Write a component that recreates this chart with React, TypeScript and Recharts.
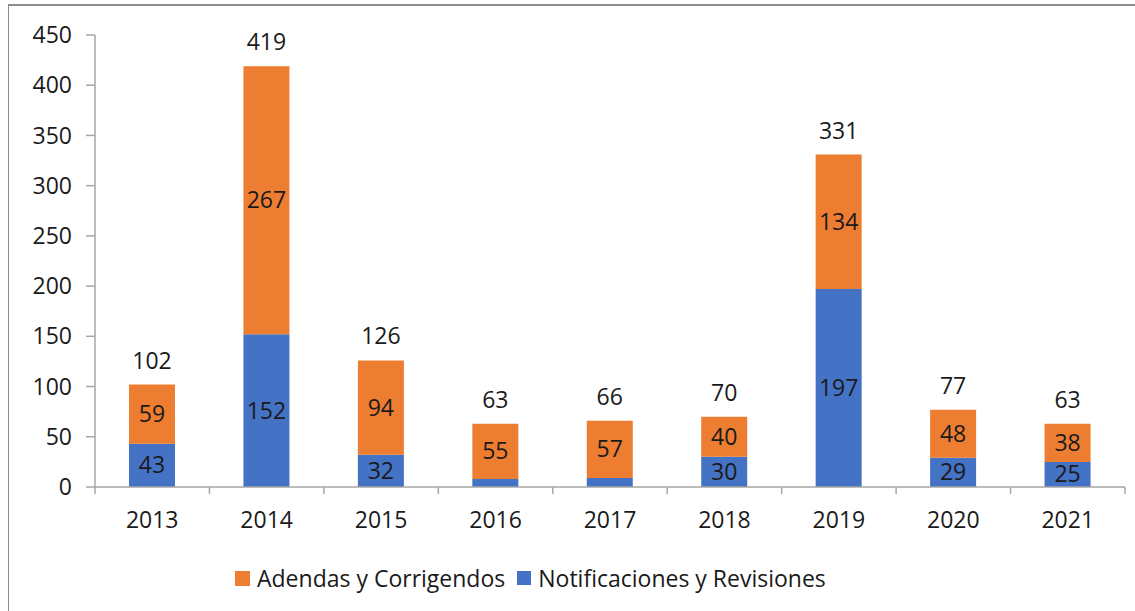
import React from 'react';
import { BarChart, Bar, XAxis, YAxis, LabelList, Legend } from 'recharts';

const years = ['2013', '2014', '2015', '2016', '2017', '2018', '2019', '2020', '2021'];
const notificaciones = [43, 152, 32, 8, 9, 30, 197, 29, 25];
const adendas = [59, 267, 94, 55, 57, 40, 134, 48, 38];
const yTicks = [0, 50, 100, 150, 200, 250, 300, 350, 400, 450];
const seriesNames = { adendas: 'Adendas y Corrigendos', notificaciones: 'Notificaciones y Revisiones' };

const BLUE = '#4472C4';
const ORANGE = '#ED7D31';
const AXIS = '#A6A6A6';
const TEXT = '#1a1a1a';
const FONT = '"Open Sans", Lato, sans-serif';
const FS = 23;

// each category sits in the middle of its unit slot on a numeric axis
const data = years.map((y, i) => ({
  year: y,
  pos: i + 0.5,
  notificaciones: notificaciones[i],
  adendas: adendas[i],
  total: notificaciones[i] + adendas[i],
}));

// boundaries (tick marks) and centers (labels)
const xTicks: number[] = [];
for (let i = 0; i <= years.length; i++) {
  xTicks.push(i);
  if (i < years.length) xTicks.push(i + 0.5);
}

const XTick = (props: any) => {
  const { x, y, payload } = props;
  const v = payload.value as number;
  if (Number.isInteger(v)) {
    return <line x1={x} x2={x} y1={y} y2={y + 7} stroke={AXIS} strokeWidth={1.5} />;
  }
  return (
    <text x={x} y={y + 41} textAnchor="middle" fill={TEXT} fontSize={FS} fontFamily={FONT}>
      {years[Math.floor(v)]}
    </text>
  );
};

const TotalLabel = (props: any) => {
  const { x, y, width, index } = props;
  const t = data[index].total;
  return (
    <text x={x + width / 2} y={y - 16} textAnchor="middle" fill={TEXT} fontSize={FS} fontFamily={FONT}>
      {t}
    </text>
  );
};

const InnerLabel = (props: any) => {
  const { x, y, width, height, value } = props;
  if (value < 15) return null;
  return (
    <text x={x + width / 2} y={y + height / 2 + 8} textAnchor="middle" fill={TEXT} fontSize={FS} fontFamily={FONT}>
      {value}
    </text>
  );
};

const LegendContent = () => (
  <div style={{ display: 'flex', alignItems: 'center', height: 40, paddingLeft: 235, fontFamily: FONT, fontSize: FS, color: TEXT, whiteSpace: 'nowrap' }}>
    <span style={{ display: 'inline-block', width: 15, height: 15, background: ORANGE, marginRight: 7 }} />
    <span style={{ marginRight: 12 }}>{seriesNames.adendas}</span>
    <span style={{ display: 'inline-block', width: 14, height: 14, background: BLUE, marginRight: 7 }} />
    <span>{seriesNames.notificaciones}</span>
  </div>
);

export default function App() {
  return (
    <div style={{ position: 'relative', width: 1135, height: 611, overflow: 'hidden', background: '#fff' }}>
      <style>{`body{margin:0;}`}</style>
      <div style={{ position: 'absolute', left: 8, top: 4, width: 1200, height: 700, borderTop: '2px solid #8c8c8c', borderLeft: '1px solid #8c8c8c', boxSizing: 'border-box' }} />
      <div style={{ position: 'absolute', left: 0, top: 0 }}>
        <BarChart
          width={1135}
          height={611}
          data={data}
          margin={{ top: 35, right: 10, bottom: 13, left: 0 }}
          barSize={46}
          style={{ fontFamily: FONT }}
        >
          <XAxis
            type="number"
            dataKey="pos"
            domain={[0, years.length]}
            ticks={xTicks}
            interval={0}
            allowDataOverflow
            axisLine={{ stroke: AXIS, strokeWidth: 1.5 }}
            tickLine={false}
            tickSize={0}
            tickMargin={0}
            height={71}
            tick={XTick}
          />
          <YAxis
            domain={[0, 450]}
            ticks={yTicks}
            interval={0}
            width={95}
            axisLine={{ stroke: AXIS, strokeWidth: 1.5 }}
            tickLine={{ stroke: AXIS, strokeWidth: 1.5 }}
            tickSize={9}
            tickMargin={14}
            tick={{ fill: TEXT, fontSize: FS, fontFamily: FONT }}
          />
          <Legend verticalAlign="bottom" height={40} wrapperStyle={{ left: 0, width: 1135 }} content={LegendContent} />
          <Bar dataKey="notificaciones" name={seriesNames.notificaciones} stackId="a" fill={BLUE} isAnimationActive={false}>
            <LabelList dataKey="notificaciones" content={InnerLabel} />
          </Bar>
          <Bar dataKey="adendas" name={seriesNames.adendas} stackId="a" fill={ORANGE} isAnimationActive={false}>
            <LabelList dataKey="adendas" content={InnerLabel} />
            <LabelList dataKey="total" content={TotalLabel} />
          </Bar>
        </BarChart>
      </div>
    </div>
  );
}
